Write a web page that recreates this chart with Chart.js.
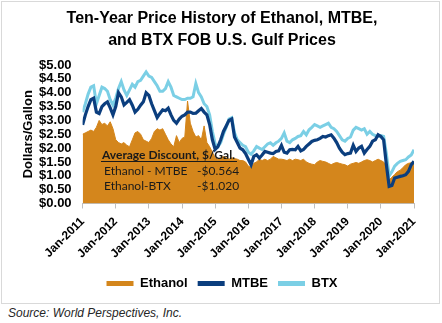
<!DOCTYPE html>
<html>
<head>
<meta charset="utf-8">
<script src="https://cdn.jsdelivr.net/npm/chart.js@4.4.0/dist/chart.umd.min.js"></script>
<style>
  html, body { margin: 0; padding: 0; background: #fff; }
  body { width: 442px; height: 323px; position: relative; overflow: hidden; font-family: "Liberation Sans", Arial, sans-serif; }
  #frame { position: absolute; left: 1px; top: 1px; width: 437px; height: 301px; border: 1px solid #d9d9d9; }
  #wrap { position: absolute; left: 0; top: 0; width: 442px; height: 304px; }
  #source { position: absolute; left: 8px; top: 306px; font-size: 12px; line-height: 14px; font-style: italic; color: #262626; }
</style>
</head>
<body>
<div id="frame"></div>
<div id="wrap"><canvas id="chart"></canvas></div>
<div id="source">Source: World Perspectives, Inc.</div>
<script>
// Monthly prices, $/gal, Jan-2011 .. Jan-2021 (121 points each)
const ethanol = [
  2.50, 2.55, 2.60, 2.65, 2.60, 2.75, 3.00, 2.85, 2.90, 2.80, 2.95, 2.70,
  2.30, 2.20, 2.15, 2.20, 2.10, 2.05, 2.30, 2.55, 2.60, 2.50, 2.30, 2.25,
  2.20, 2.35, 2.60, 2.70, 2.65, 2.70, 2.50, 2.30, 2.15, 2.05, 2.45, 2.20,
  2.35, 2.40, 3.70, 2.90, 2.60, 2.40, 2.45, 2.30, 2.80, 2.20, 2.05, 1.85,
  1.65, 1.60, 1.65, 1.70, 1.65, 1.60, 1.65, 1.62, 1.60, 1.55, 1.55, 1.50,
  1.35, 1.30, 1.45, 1.50, 1.60, 1.55, 1.60, 1.55, 1.60, 1.70, 1.65, 1.60,
  1.60, 1.58, 1.55, 1.60, 1.55, 1.60, 1.58, 1.55, 1.60, 1.50, 1.45, 1.42,
  1.40, 1.50, 1.55, 1.52, 1.50, 1.45, 1.40, 1.45, 1.48, 1.45, 1.42, 1.40,
  1.35, 1.42, 1.45, 1.48, 1.45, 1.50, 1.55, 1.58, 1.55, 1.50, 1.55, 1.60,
  1.55, 1.50, 1.35, 0.85, 0.95, 1.05, 1.15, 1.20, 1.30, 1.40, 1.45, 1.47,
  1.50
];
const mtbe = [
  2.84, 3.20, 3.50, 3.75, 3.80, 3.30, 3.25, 3.50, 3.60, 3.67, 3.45, 3.20,
  3.50, 4.00, 3.85, 3.56, 3.65, 3.75, 3.55, 3.30, 3.40, 3.55, 3.67, 4.00,
  3.90, 3.60, 3.35, 3.10, 3.25, 3.38, 3.35, 3.44, 3.20, 3.00, 2.90, 3.05,
  3.15, 3.20, 3.30, 3.30, 3.25, 3.26, 3.35, 3.43, 3.30, 3.20, 2.85, 2.30,
  1.95, 2.05, 2.30, 2.60, 2.80, 3.00, 3.05, 2.40, 2.20, 2.00, 1.94, 1.80,
  1.60, 1.40, 1.70, 1.76, 1.64, 1.75, 1.88, 1.85, 1.82, 1.80, 1.88, 1.90,
  2.10, 1.85, 1.82, 1.94, 1.95, 1.94, 2.06, 1.90, 1.95, 2.06, 2.15, 2.24,
  2.28, 2.30, 2.35, 2.42, 2.40, 2.45, 2.48, 2.36, 2.20, 2.00, 1.85, 1.76,
  1.80, 1.82, 2.10, 1.88, 2.00, 2.06, 1.82, 1.95, 2.06, 2.25, 2.30, 2.48,
  2.42, 2.30, 1.40, 0.62, 0.65, 0.92, 0.95, 0.98, 1.00, 1.04, 1.16, 1.40,
  1.52
];
const btx = [
  3.30, 3.60, 3.95, 4.20, 4.25, 3.60, 3.90, 4.20, 4.15, 4.05, 3.75, 3.55,
  3.80, 4.15, 4.40, 4.10, 3.90, 4.10, 4.30, 4.20, 4.40, 4.45, 4.60, 4.75,
  4.60, 4.55, 4.40, 4.25, 4.05, 4.05, 4.15, 4.40, 4.20, 3.90, 3.85, 3.80,
  3.75, 3.75, 3.80, 3.80, 3.85, 4.33, 4.00, 3.85, 3.60, 3.50, 3.20, 2.60,
  2.15, 2.05, 2.20, 2.50, 2.75, 3.05, 3.10, 2.55, 2.30, 2.20, 2.10, 2.05,
  1.85, 1.78, 1.90, 2.06, 2.00, 1.95, 2.05, 2.15, 2.19, 2.10, 2.19, 2.25,
  2.35, 2.55, 2.25, 2.20, 2.30, 2.35, 2.42, 2.45, 2.60, 2.48, 2.66, 2.75,
  2.85, 2.80, 2.75, 2.80, 2.85, 2.90, 2.75, 2.70, 2.60, 2.45, 2.30, 2.25,
  2.35, 2.40, 2.65, 2.75, 2.70, 2.65, 2.70, 2.50, 2.60, 2.50, 2.45, 2.42,
  2.45, 2.42, 1.80, 1.00, 1.15, 1.35, 1.45, 1.52, 1.55, 1.58, 1.68, 1.75,
  1.94
];
const months = ethanol.map((_, i) => i);
const yearLabels = ["Jan-2011", "Jan-2012", "Jan-2013", "Jan-2014", "Jan-2015", "Jan-2016",
  "Jan-2017", "Jan-2018", "Jan-2019", "Jan-2020", "Jan-2021"];
const noteTitle = "Average Discount, $/Gal.";
const noteRows = [["Ethanol - MTBE", "-$0.564"], ["Ethanol-BTX", "-$1.020"]];

const FONT = '"Liberation Sans", Arial, sans-serif';
const ORANGE = "#d4861c", NAVY = "#0b3e7e", SKY = "#7bcfe5";

// little text table sitting on the orange area
const discountNote = {
  id: "discountNote",
  afterDatasetsDraw(chart) {
    const ctx = chart.ctx;
    ctx.save();
    ctx.fillStyle = "#1a1a1a";
    ctx.textBaseline = "alphabetic";
    ctx.font = "bold 12px Lato";
    ctx.fillText(noteTitle, 102, 159);
    ctx.fillRect(101, 161, 136, 1);
    ctx.font = "12px Lato";
    noteRows.forEach(([name, val], i) => {
      ctx.fillText(name, 104, 175 + i * 15);
      ctx.fillText(val, 197, 175 + i * 15);
    });
    ctx.restore();
  },
};

new Chart(document.getElementById("chart"), {
  type: "line",
  data: {
    labels: months,
    datasets: [
      { label: "Ethanol", data: ethanol, borderColor: ORANGE, backgroundColor: ORANGE,
        borderWidth: 1, fill: "origin", order: 3, legendColor: ORANGE },
      { label: "MTBE", data: mtbe, borderColor: NAVY, borderWidth: 3.2, fill: false,
        order: 1, legendColor: NAVY },
      { label: "BTX", data: btx, borderColor: SKY, borderWidth: 3, fill: false,
        order: 2, legendColor: SKY },
    ],
  },
  options: {
    responsive: true,
    maintainAspectRatio: false,
    animation: false,
    layout: { padding: { left: 30, right: 28, top: 0, bottom: 4 } },
    elements: { point: { radius: 0 }, line: { tension: 0 } },
    plugins: {
      tooltip: { enabled: false },
      title: {
        display: true,
        text: ["Ten-Year Price History of Ethanol, MTBE,", "and BTX FOB U.S. Gulf Prices"],
        color: "#000",
        font: { family: FONT, size: 16, weight: "bold", lineHeight: 1.375 },
        padding: { top: 8, bottom: 13 },
      },
      legend: {
        position: "bottom",
        labels: {
          boxWidth: 27, boxHeight: 5, padding: 10, color: "#000",
          font: { family: FONT, size: 13, weight: "bold" },
          generateLabels: (chart) => chart.data.datasets.map((ds, i) => ({
            text: ds.label, fillStyle: ds.legendColor, strokeStyle: ds.legendColor,
            lineWidth: 0, hidden: false, datasetIndex: i,
          })),
        },
      },
    },
    scales: {
      x: {
        type: "linear", min: 0, max: 120,
        grid: { display: true, drawOnChartArea: false, tickLength: 5, tickColor: "#bfbfbf" },
        border: { display: true, color: "#bfbfbf", width: 1 },
        ticks: {
          stepSize: 12, autoSkip: false, minRotation: 45, maxRotation: 45, padding: 6,
          color: "#000", font: { family: FONT, size: 12, weight: "bold" },
          callback: (v) => yearLabels[v / 12],
        },
      },
      y: {
        min: 0, max: 5,
        afterFit: (scale) => { scale.width = 52.6; },
        grid: { display: false, drawTicks: false },
        border: { display: false },
        ticks: {
          stepSize: 0.5, autoSkip: false, padding: 11, color: "#000",
          font: { family: FONT, size: 13, weight: "bold" },
          callback: (v) => "$" + v.toFixed(2),
        },
        title: {
          display: true, text: "Dollars/Gallon", color: "#000",
          font: { family: FONT, size: 13, weight: "bold" },
          padding: { top: -9, bottom: 2 },
        },
      },
    },
  },
  plugins: [discountNote],
});
</script>
</body>
</html>
